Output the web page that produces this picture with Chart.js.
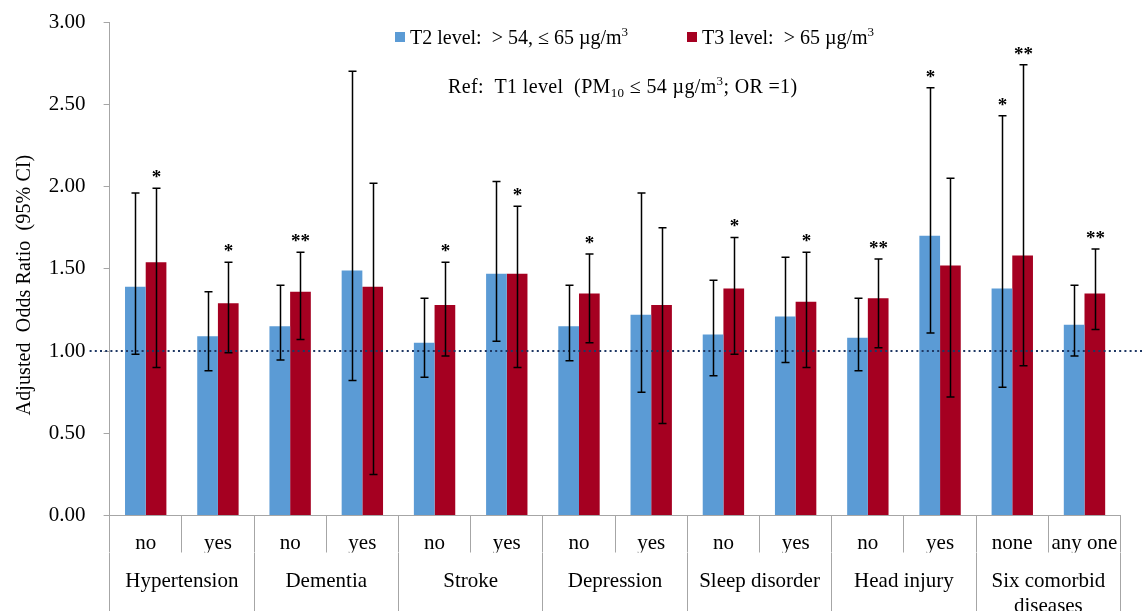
<!DOCTYPE html>
<html>
<head>
<meta charset="utf-8">
<script src="https://cdn.jsdelivr.net/npm/chart.js@4.4.1/dist/chart.umd.min.js"></script>
<style>
html,body{margin:0;padding:0;background:#ffffff;}
#wrap{width:1143px;height:611px;position:relative;}
</style>
</head>
<body>
<div id="wrap"><canvas id="c" width="1143" height="611"></canvas></div>
<script>
// ---------- DATA ----------
const subLabels = ['no','yes','no','yes','no','yes','no','yes','no','yes','no','yes','none','any one'];
const groupLabels = ['Hypertension','Dementia','Stroke','Depression','Sleep disorder','Head injury',['Six comorbid','diseases']];

const t2Label = 'T2 level:  > 54, \u2264 65 \u00b5g/m';
const t3Label = 'T3 level:  > 65 \u00b5g/m';

const t2Values = [1.39, 1.09, 1.15, 1.49, 1.05, 1.47, 1.15, 1.22, 1.10, 1.21, 1.08, 1.70, 1.38, 1.16];
const t2Low    = [0.98, 0.88, 0.945, 0.82, 0.84, 1.06, 0.94, 0.75, 0.85, 0.93, 0.88, 1.11, 0.78, 0.97];
const t2High   = [1.96, 1.36, 1.40, 2.70, 1.32, 2.03, 1.40, 1.96, 1.43, 1.57, 1.32, 2.60, 2.43, 1.40];
const t2Sig    = ['', '', '', '', '', '', '', '', '', '', '', '*', '*', ''];

const t3Values = [1.54, 1.29, 1.36, 1.39, 1.28, 1.47, 1.35, 1.28, 1.38, 1.30, 1.32, 1.52, 1.58, 1.35];
const t3Low    = [0.90, 0.99, 1.07, 0.25, 0.97, 0.90, 1.05, 0.56, 0.98, 0.90, 1.02, 0.72, 0.91, 1.13];
const t3High   = [1.99, 1.54, 1.60, 2.02, 1.54, 1.88, 1.59, 1.75, 1.69, 1.60, 1.56, 2.05, 2.74, 1.62];
const t3Sig    = ['*', '*', '**', '', '*', '*', '*', '', '*', '*', '**', '', '**', '**'];

const yMin = 0, yMax = 3, yStep = 0.5;
const refValue = 1;
const yTitle = 'Adjusted  Odds Ratio  (95% CI)';

// ---------- STYLE ----------
const serif = "'Liberation Serif','Times New Roman',serif";
const blue = '#5B9BD5';
const red = '#A50021';
const axisGrey = '#a6a6a6';

const lows = [t2Low, t3Low];
const highs = [t2High, t3High];
const sigs = [t2Sig, t3Sig];

const overlayPlugin = {
  id: 'overlay',
  afterDatasetsDraw(chart) {
    const ctx = chart.ctx;
    const ys = chart.scales.y;
    const area = chart.chartArea;
    ctx.save();
    // reference dotted line at OR = 1
    const yRef = ys.getPixelForValue(refValue);
    ctx.strokeStyle = '#1F3864';
    ctx.lineWidth = 2;
    ctx.setLineDash([2, 3.2]);
    ctx.beginPath();
    ctx.moveTo(area.left - 20, yRef);
    ctx.lineTo(chart.width, yRef);
    ctx.stroke();
    ctx.setLineDash([]);

    // error bars + significance stars
    chart.data.datasets.forEach((ds, di) => {
      const meta = chart.getDatasetMeta(di);
      meta.data.forEach((bar, i) => {
        const x = Math.round(bar.x) + 0.5;
        const yLo = ys.getPixelForValue(lows[di][i]);
        const yHi = ys.getPixelForValue(highs[di][i]);
        ctx.strokeStyle = '#000';
        ctx.lineWidth = 1.5;
        ctx.beginPath();
        ctx.moveTo(x, yLo); ctx.lineTo(x, yHi);
        ctx.moveTo(x - 4, yLo); ctx.lineTo(x + 4, yLo);
        ctx.moveTo(x - 4, yHi); ctx.lineTo(x + 4, yHi);
        ctx.stroke();
        const s = sigs[di][i];
        if (s) {
          ctx.fillStyle = '#000';
          ctx.font = 'bold 19px ' + serif;
          ctx.textAlign = 'center';
          ctx.textBaseline = 'alphabetic';
          ctx.fillText(s, x, yHi - 5);
        }
      });
    });
    ctx.restore();
  },
  afterDraw(chart) {
    const ctx = chart.ctx;
    ctx.save();
    ctx.fillStyle = '#000';
    ctx.textBaseline = 'alphabetic';
    ctx.textAlign = 'left';
    const big = '20px ' + serif;
    const small = '13px ' + serif;
    function drawParts(x, y, parts) {
      parts.forEach(p => {
        ctx.font = p.font;
        ctx.fillText(p.t, x, y + p.dy);
        x += ctx.measureText(p.t).width;
      });
      return x;
    }
    // custom legend (overlaid inside plot, as in the original)
    const items = [
      { color: chart.data.datasets[0].backgroundColor, label: chart.data.datasets[0].label, x: 395 },
      { color: chart.data.datasets[1].backgroundColor, label: chart.data.datasets[1].label, x: 687 }
    ];
    items.forEach(it => {
      ctx.fillStyle = it.color;
      ctx.fillRect(it.x, 32, 10, 10);
      ctx.fillStyle = '#000';
      drawParts(it.x + 15, 44, [
        { t: it.label, font: big, dy: 0 },
        { t: '3', font: small, dy: -8 }
      ]);
    });
    // reference note
    if ('letterSpacing' in ctx) ctx.letterSpacing = '0.35px';
    drawParts(448, 93, [
      { t: 'Ref:  T1 level  (PM', font: big, dy: 0 },
      { t: '10', font: small, dy: 4 },
      { t: ' \u2264 54 \u00b5g/m', font: big, dy: 0 },
      { t: '3', font: small, dy: -8 },
      { t: '; OR =1)', font: big, dy: 0 }
    ]);
    // rotated y-axis title
    ctx.translate(25, 285);
    ctx.rotate(-Math.PI / 2);
    if ('letterSpacing' in ctx) ctx.letterSpacing = '0.1px';
    ctx.font = big;
    ctx.textAlign = 'center';
    ctx.textBaseline = 'middle';
    ctx.fillText(yTitle, 0, 0);
    ctx.restore();
  }
};

new Chart(document.getElementById('c'), {
  type: 'bar',
  data: {
    labels: subLabels,
    datasets: [
      { label: t2Label, data: t2Values, backgroundColor: blue, borderWidth: 0,
        categoryPercentage: 0.573, barPercentage: 1.0 },
      { label: t3Label, data: t3Values, backgroundColor: red, borderWidth: 0,
        categoryPercentage: 0.573, barPercentage: 1.0 }
    ]
  },
  options: {
    responsive: false,
    animation: false,
    devicePixelRatio: 1,
    layout: { padding: { top: 22, right: 22.4, bottom: 0, left: 0 } },
    plugins: {
      legend: { display: false },
      tooltip: { enabled: false },
      title: { display: false }
    },
    scales: {
      x: {
        type: 'category',
        position: 'bottom',
        offset: true,
        grid: { display: true, drawOnChartArea: false, drawTicks: true, tickLength: 37,
                color: axisGrey, lineWidth: 1, offset: true },
        border: { display: true, color: axisGrey, width: 1 },
        ticks: { font: { family: serif, size: 21 }, color: '#000', padding: -22,
                 maxRotation: 0, minRotation: 0, autoSkip: false },
        afterFit(s) { s.height = 37; }
      },
      x2: {
        type: 'category',
        position: 'bottom',
        labels: groupLabels,
        offset: true,
        grid: { display: true, drawOnChartArea: false, drawTicks: true, tickLength: 62,
                color: axisGrey, lineWidth: 1, offset: true },
        border: { display: false },
        ticks: { font: { family: serif, size: 21 }, color: '#000', padding: -45.5,
                 maxRotation: 0, minRotation: 0, autoSkip: false },
        afterFit(s) { s.height = 58.5; }
      },
      y: {
        type: 'linear',
        min: yMin,
        max: yMax,
        ticks: { stepSize: yStep, callback: v => Number(v).toFixed(2),
                 font: { family: serif, size: 21 }, color: '#000', padding: 18 },
        grid: { display: true, drawOnChartArea: false, drawTicks: true, tickLength: 6,
                color: axisGrey, lineWidth: 1 },
        border: { display: true, color: axisGrey, width: 1 },
        title: { display: false },
        afterFit(s) { s.width = 109.6; s.paddingTop = 0; s.paddingBottom = 0; }
      }
    }
  },
  plugins: [overlayPlugin]
});
</script>
</body>
</html>
